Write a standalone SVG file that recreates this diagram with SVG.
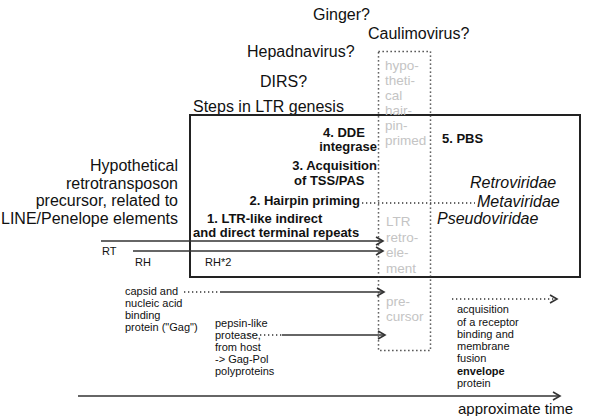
<svg xmlns="http://www.w3.org/2000/svg" width="600" height="416" viewBox="0 0 600 416">
<style>
text{font-family:"Liberation Sans",Arial,sans-serif;fill:#111}
.big{font-size:16px}
.it{font-size:16px;font-style:italic}
.b{font-size:13px;font-weight:bold}
.s{font-size:11px}
.g{font-size:13.5px;fill:#c4c4c4}
.ln{stroke:#333;stroke-width:1.6;fill:none}
.dot{stroke:#333;stroke-width:1.5;fill:none;stroke-dasharray:1.3 2.7}
</style>
<defs>
<marker id="ah" markerUnits="userSpaceOnUse" markerWidth="12" markerHeight="12" refX="8" refY="4" orient="auto" overflow="visible">
<path d="M1,0 L8,4 L1,8" fill="none" stroke="#333" stroke-width="1.6"/>
</marker>
</defs>

<g id="labels-top">
<text class="big" x="313" y="20">Ginger?</text>
<text class="big" x="368" y="39">Caulimovirus?</text>
<text class="big" x="247" y="57">Hepadnavirus?</text>
<text class="big" x="260" y="87">DIRS?</text>
<text class="big" x="193" y="112">Steps in LTR genesis</text>
</g>

<g id="ltr-box">
<rect x="190" y="115" width="390" height="162" fill="none" stroke="#222" stroke-width="2"/>
</g>

<g id="hypothetical-column">
<rect x="378.5" y="51.5" width="52" height="299" class="dot"/>
<text class="g" x="385" y="70">hypo-</text>
<text class="g" x="385" y="85">theti-</text>
<text class="g" x="385" y="100">cal</text>
<text class="g" x="385" y="115">hair-</text>
<text class="g" x="385" y="130">pin-</text>
<text class="g" x="385" y="145">primed</text>
<text class="g" x="386" y="226">LTR</text>
<text class="g" x="386" y="241.5">retro-</text>
<text class="g" x="386" y="257">ele-</text>
<text class="g" x="386" y="272.5">ment</text>
<text class="g" x="386" y="306">pre-</text>
<text class="g" x="386" y="321">cursor</text>
</g>

<g id="steps">
<text class="b" x="323" y="137">4. DDE</text>
<text class="b" x="377" y="151" text-anchor="end">integrase</text>
<text class="b" x="377" y="170" text-anchor="end">3. Acquisition</text>
<text class="b" x="294" y="185">of TSS/PAS</text>
<text class="b" x="360" y="205" text-anchor="end">2. Hairpin priming</text>
<text class="b" x="207" y="223">1. LTR-like indirect</text>
<text class="b" x="193" y="237">and direct terminal repeats</text>
<text class="b" x="442" y="143">5. PBS</text>
</g>

<g id="families">
<text class="it" x="470" y="188">Retroviridae</text>
<text class="it" x="477" y="207">Metaviridae</text>
<text class="it" x="437" y="224">Pseudoviridae</text>
</g>

<g id="precursor">
<text class="big" x="178" y="171" text-anchor="end">Hypothetical</text>
<text class="big" x="178" y="188.5" text-anchor="end">retrotransposon</text>
<text class="big" x="178" y="206" text-anchor="end">precursor, related to</text>
<text class="big" x="178" y="223.5" text-anchor="end">LINE/Penelope elements</text>
<text class="s" x="102" y="255">RT</text>
<text class="s" x="135" y="266">RH</text>
<text class="s" x="205" y="266">RH*2</text>
</g>

<g id="gag">
<text class="s" x="125" y="295">capsid and</text>
<text class="s" x="125" y="307">nucleic acid</text>
<text class="s" x="125" y="319">binding</text>
<text class="s" x="125" y="331">protein ("Gag")</text>
</g>

<g id="protease">
<text class="s" x="215" y="327">pepsin-like</text>
<text class="s" x="215" y="339">protease,</text>
<text class="s" x="215" y="351">from host</text>
<text class="s" x="215" y="363">-&gt; Gag-Pol</text>
<text class="s" x="215" y="375">polyproteins</text>
</g>

<g id="envelope">
<text class="s" x="457" y="313">acquisition</text>
<text class="s" x="457" y="325.5">of a receptor</text>
<text class="s" x="457" y="338">binding and</text>
<text class="s" x="457" y="350">membrane</text>
<text class="s" x="457" y="362">fusion</text>
<text class="s" x="457" y="374.5" font-weight="bold">envelope</text>
<text class="s" x="457" y="387">protein</text>
</g>

<g id="time">
<text x="458" y="414" font-size="15">approximate time</text>
</g>

<g id="connectors">
<line class="dot" x1="362" y1="203" x2="475" y2="203"/>
<line class="ln" x1="101" y1="241" x2="383" y2="241" marker-end="url(#ah)"/>
<line class="ln" x1="133" y1="251" x2="383" y2="251" marker-end="url(#ah)"/>
<line class="dot" x1="184" y1="292" x2="220" y2="292"/>
<line class="ln" x1="220" y1="292" x2="384" y2="292" marker-end="url(#ah)"/>
<line class="dot" x1="244" y1="335" x2="282" y2="335"/>
<line class="ln" x1="282" y1="335" x2="385" y2="335" marker-end="url(#ah)"/>
<line class="dot" x1="452" y1="299" x2="557" y2="299" marker-end="url(#ah)"/>
<line class="ln" x1="78" y1="396" x2="560" y2="396" marker-end="url(#ah)"/>
</g>
</svg>
